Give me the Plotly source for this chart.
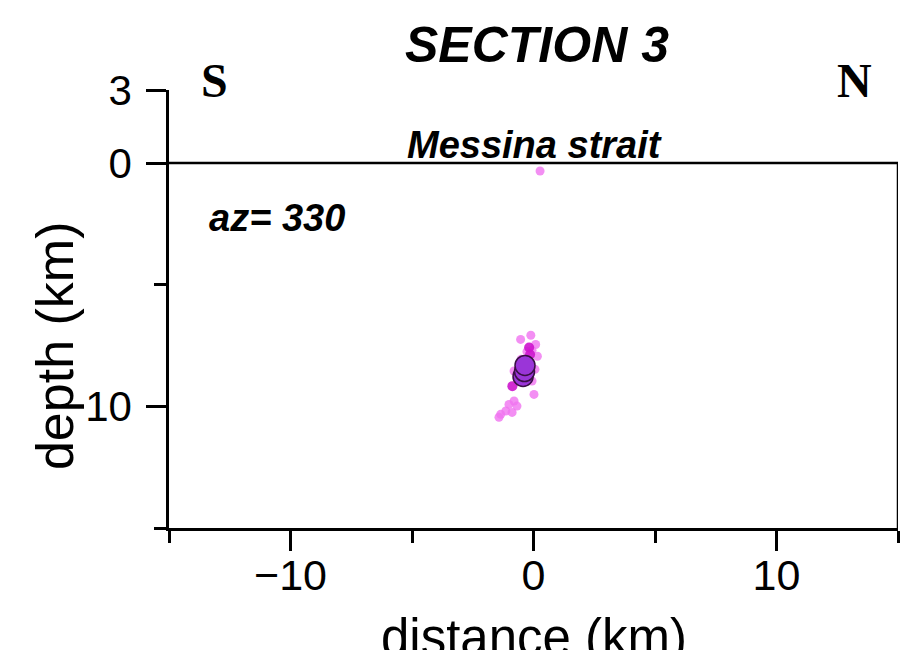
import plotly.graph_objects as go

# Light pink events (distance km, depth km)
pink_x = [0.27, -0.11, -0.53, 0.09, -0.06, 0.16, -0.27, -0.51, 0.06, -0.80, -0.68,
          -0.06, 0.02, -0.80, -1.01, -0.68, -1.14, -0.88, -1.35, -1.42, -0.18]
pink_y = [0.33, 7.08, 7.25, 7.46, 7.70, 7.94, 7.75, 8.07, 8.48, 8.55, 8.81,
          8.96, 9.51, 9.78, 9.92, 9.99, 10.19, 10.25, 10.33, 10.45, 8.81]
# Darker magenta events
dark_x = [-0.18, -0.14, -0.87, -0.27]
dark_y = [7.58, 7.87, 9.17, 8.48]
# Large purple events
big_x = [-0.43, -0.37, -0.35]
big_y = [8.77, 8.57, 8.32]

x_major = [-10, 0, 10]
x_minor = [-15, -5, 5, 15]
y_major = [-3, 0, 10]
y_major_text = ["3", "0", "10"]
y_minor = [5, 15]

FONT = "Liberation Sans, Arial, Helvetica, sans-serif"
SERIF = "Liberation Serif, Times New Roman, serif"

fig = go.Figure()
fig.add_trace(go.Scatter(x=pink_x, y=pink_y, mode="markers",
                         marker=dict(size=9, color="rgba(240,115,240,0.8)", line=dict(width=0)),
                         showlegend=False))
fig.add_trace(go.Scatter(x=dark_x, y=dark_y, mode="markers",
                         marker=dict(size=10, color="rgba(205,20,205,0.9)", line=dict(width=0)),
                         showlegend=False))
fig.add_trace(go.Scatter(x=big_x, y=big_y, mode="markers",
                         marker=dict(size=20, color="#9a35d8", line=dict(width=1.5, color="#3a0f45")),
                         showlegend=False))

fig.update_layout(
    width=900, height=650,
    margin=dict(l=169, r=2, t=90, b=122, autoexpand=False),
    paper_bgcolor="white", plot_bgcolor="white",
    font=dict(family=FONT, color="black"),
    title=dict(text="SECTION 3", x=537/900, xref="container", xanchor="center",
               y=1 - 44/650, yref="container", yanchor="middle",
               font=dict(size=50, family=FONT, weight="bold", style="italic", color="black")),
    xaxis=dict(range=[-15, 15], showgrid=False, zeroline=False, showline=True,
               automargin=False,
               linecolor="black", linewidth=2.5, ticks="outside", tickvals=x_major,
               ticklen=20, tickwidth=2.5, tickcolor="black", ticklabelstandoff=-12,
               tickfont=dict(size=43, family=FONT, color="black"),
               minor=dict(tickvals=x_minor, ticks="outside", ticklen=12, tickwidth=2.5,
                          tickcolor="black", showgrid=False)),
    yaxis=dict(range=[15, -3], showgrid=False, zeroline=False, showline=True,
               automargin=False,
               linecolor="black", linewidth=2.5, ticks="outside", tickvals=y_major,
               ticktext=y_major_text, ticklabelstandoff=6,
               ticklen=20, tickwidth=2.5, tickcolor="black",
               tickfont=dict(size=42, family=FONT, color="black"),
               minor=dict(tickvals=y_minor, ticks="outside", ticklen=12, tickwidth=2.5,
                          tickcolor="black", showgrid=False)),
    shapes=[
        dict(type="line", xref="x", yref="y", x0=-15, x1=15, y0=0, y1=0,
             line=dict(color="black", width=2.5)),
        dict(type="line", xref="x", yref="y", x0=15, x1=15, y0=0, y1=15,
             line=dict(color="black", width=2.5)),
    ],
    annotations=[
        dict(text="distance (km)", xref="paper", yref="paper", x=0.5, y=-0.249,
             xanchor="center", yanchor="middle", showarrow=False,
             font=dict(size=51, family=FONT, color="black")),
        dict(text="depth (km)", xref="paper", yref="y", x=-0.157, y=7.5,
             xanchor="center", yanchor="middle", textangle=-90, showarrow=False,
             font=dict(size=52, family=FONT, color="black")),
        dict(text="S", xref="paper", yref="paper", x=(214-169)/729, y=1 + 10/438,
             xanchor="center", yanchor="middle", showarrow=False,
             font=dict(size=48, family=SERIF, weight="bold", color="black")),
        dict(text="N", xref="paper", yref="paper", x=(854-169)/729, y=1 + 10/438,
             xanchor="center", yanchor="middle", showarrow=False,
             font=dict(size=48, family=SERIF, weight="bold", color="black")),
        dict(text="Messina strait", xref="x", yref="y", x=0.05, y=-0.75,
             xanchor="center", yanchor="middle", showarrow=False,
             font=dict(size=38, family=FONT, weight="bold", style="italic", color="black")),
        dict(text="az= 330", xref="x", yref="y", x=-13.45, y=2.25,
             xanchor="left", yanchor="middle", showarrow=False,
             font=dict(size=38, family=FONT, weight="bold", style="italic", color="black")),
    ],
)

fig.write_html("out.html",
               config={"displayModeBar": False},
               post_script="document.body.style.margin='0';document.body.style.overflow='hidden';")
